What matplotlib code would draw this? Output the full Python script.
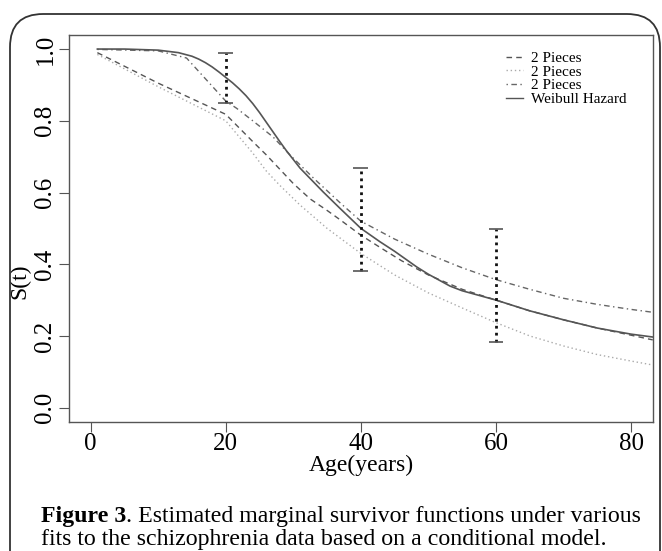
"""
Estimated marginal survivor functions (schizophrenia data), Figure 3
"""
import matplotlib
matplotlib.use("Agg")
import matplotlib.pyplot as plt
from matplotlib.patches import FancyBboxPatch

plt.rcParams["font.family"] = ["Liberation Serif", "DejaVu Serif"]

# curves: age (years) and S(t)
dash_t = [1, 10, 20, 22, 24, 26, 28, 30, 32.5, 35, 37, 40, 43, 46, 50, 55, 60, 65, 70, 75, 80, 83.2]
dash_s = [0.99, 0.905, 0.818, 0.78, 0.742, 0.705, 0.665, 0.625, 0.582, 0.55, 0.523, 0.481, 0.445,
          0.41, 0.37, 0.33, 0.30, 0.27, 0.245, 0.222, 0.202, 0.189]

dot_t = [1, 10, 20, 22, 24, 26, 28, 31, 35, 40, 45, 50, 55, 60, 65, 70, 75, 80, 83.2]
dot_s = [0.985, 0.895, 0.80, 0.755, 0.71, 0.66, 0.62, 0.565, 0.50, 0.43, 0.37, 0.32, 0.278,
         0.237, 0.20, 0.172, 0.148, 0.13, 0.119]

dashdot_t = [1, 10, 14.2, 20, 21.6, 24, 27, 29.5, 33, 37, 40, 45, 50, 55, 60, 65, 70, 75, 80, 83.2]
dashdot_s = [0.999, 0.995, 0.975, 0.855, 0.835, 0.80, 0.755, 0.705, 0.64, 0.57, 0.52, 0.47,
             0.428, 0.39, 0.357, 0.33, 0.305, 0.288, 0.274, 0.266]

weib_t = [1, 5, 10, 13, 15, 16, 17, 18, 19, 20, 21, 22, 23, 24, 25, 26, 27, 28, 29, 31, 34.4,
          36.9, 40, 42.8, 45, 48.3, 50, 53.2, 55, 60, 65, 70, 75, 80, 83.2]
weib_s = [1.0, 1.0, 0.997, 0.99, 0.98, 0.972, 0.962, 0.95, 0.936, 0.921, 0.906, 0.889, 0.87,
          0.848, 0.823, 0.796, 0.769, 0.742, 0.716, 0.668, 0.602, 0.556, 0.50, 0.463, 0.436,
          0.392, 0.372, 0.339, 0.326, 0.30, 0.27, 0.245, 0.222, 0.205, 0.197]

# interval bars
bar_t = [20, 40, 60]
bar_lo = [0.85, 0.382, 0.182]
bar_hi = [0.99, 0.667, 0.497]

labels = ["2 Pieces", "2 Pieces", "2 Pieces", "Weibull Hazard"]
caption_bold = "Figure 3"
caption_rest = ". Estimated marginal survivor functions under various"
caption_line2 = "fits to the schizophrenia data based on a conditional model."


def main():
    fig = plt.figure(figsize=(6.62, 5.51), dpi=100)
    ax = fig.add_axes([0.1042, 0.2341, 0.8818, 0.7029])

    # the four fits
    ax.plot(dash_t, dash_s, ls=(0, (4, 3)), color="#555555", lw=1.0, label=labels[0])
    ax.plot(dot_t, dot_s, ls=(0, (1, 2)), color="#aaaaaa", lw=1.0, label=labels[1])
    ax.plot(dashdot_t, dashdot_s, ls=(0, (1, 2.5, 4, 2.5)), color="#666666", lw=1.0,
            label=labels[2])
    ax.plot(weib_t, weib_s, ls="-", color="#555555", lw=1.2, label=labels[3])

    # dotted bars with flat caps
    ax.vlines(bar_t, bar_lo, bar_hi, colors="#111111", linestyles=(0, (1, 1.5)), lw=2.0)
    for t, lo, hi in zip(bar_t, bar_lo, bar_hi):
        ax.hlines([lo, hi], t - 1.1, t + 1.1, colors="#555555", lw=1.2)

    ax.set_xlim(-3.2, 83.2)
    ax.set_ylim(-0.04, 1.04)
    ax.set_xticks([0, 20, 40, 60, 80])
    ax.set_yticks([0.0, 0.2, 0.4, 0.6, 0.8, 1.0])
    ax.set_yticklabels(["0.0", "0.2", "0.4", "0.6", "0.8", "1.0"], rotation=90, va="center")
    ax.tick_params(direction="out", length=7, width=0.8, color="#555555", labelsize=18,
                   pad=3)
    ax.tick_params(axis="x", pad=1)
    ax.tick_params(axis="y", pad=2)
    for sp in ax.spines.values():
        sp.set_color("#555555")
        sp.set_linewidth(1.0)

    ax.set_xlabel("Age(years)", fontsize=17, labelpad=0)
    ax.set_ylabel("S(t)", fontsize=17, labelpad=2)
    ax.yaxis.set_label_coords(-0.066, 0.364)

    leg = ax.legend(loc="upper right", bbox_to_anchor=(0.973, 0.985), frameon=False,
                    fontsize=11, handlelength=1.1, handletextpad=0.5,
                    labelspacing=0.0, borderpad=0.2)
    for h in leg.get_lines():
        h.set_linewidth(1.0)

    # caption under the chart, bold label then the plain text after it
    t1 = fig.text(41 / 662, 1 - 527 / 551, caption_bold, fontsize=17.2, fontweight="bold",
                  va="bottom", ha="left")
    ax.annotate(caption_rest, xy=(1, 0), xycoords=t1, va="bottom", ha="left",
                fontsize=17.2, annotation_clip=False)
    fig.text(41 / 662, 1 - 550 / 551, caption_line2, fontsize=17.2, va="bottom", ha="left")

    # rounded frame round the whole figure
    frame = FancyBboxPatch((10 / 662, -0.1), 650 / 662, 1 - 14 / 551 + 0.1,
                           boxstyle="round,pad=0,rounding_size=0.05",
                           transform=fig.transFigure, fill=False, ec="#333333", lw=1.3,
                           mutation_aspect=662 / 551)
    fig.patches.append(frame)

    fig.savefig("out.png", dpi=100)


if __name__ == "__main__":
    main()
